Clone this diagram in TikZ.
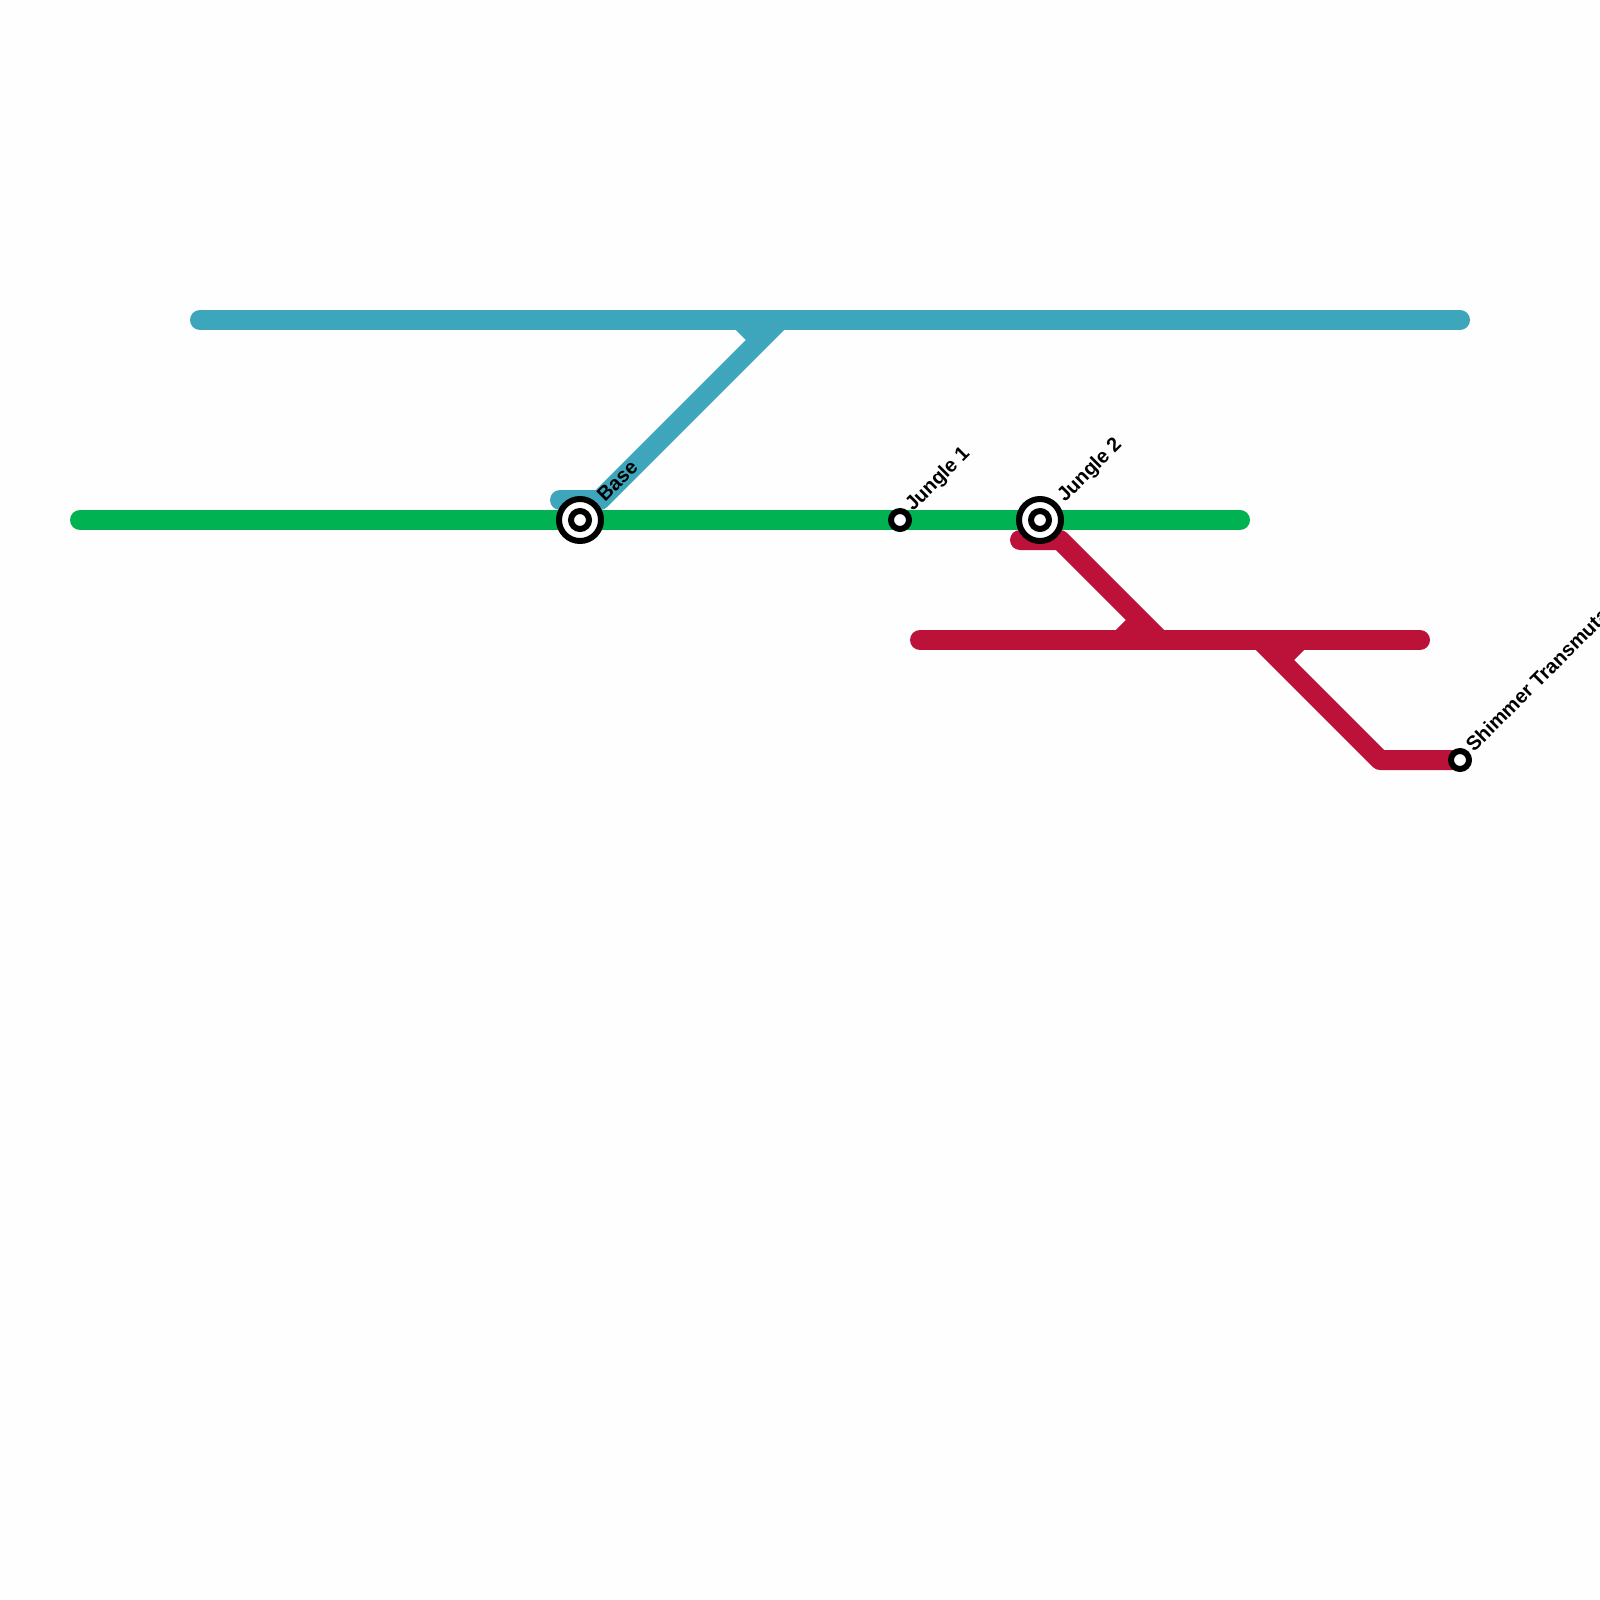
\documentclass[tikz,border=0pt]{standalone}
\usepackage{fontspec}
\setmainfont{Liberation Sans}
\definecolor{lblue}{HTML}{3EA6BC}
\definecolor{lgreen}{HTML}{00B251}
\definecolor{lred}{HTML}{BC1139}
\tikzset{
  metro/.style={line width=20pt,line cap=round,line join=round},
  stub/.style={line width=20pt,line cap=butt},
  lab/.style={anchor=base west,rotate=45,font=\bfseries\fontsize{20}{22}\selectfont,inner sep=0pt,text=black},
  bigring/.style={circle,draw=black,fill=white,line width=6pt,minimum size=42pt,inner sep=0pt,outer sep=0pt},
  midring/.style={circle,draw=black,fill=white,line width=6pt,minimum size=18pt,inner sep=0pt,outer sep=0pt},
}
\begin{document}
\begin{tikzpicture}[x=1pt,y=-1pt]
\useasboundingbox (0,0) rectangle (1600,1600);
\clip (0,0) rectangle (1600,1600);
\fill[white!99.6!black] (0,0) rectangle (1600,1600);
\coordinate (gA) at (80,520);
\coordinate (gB) at (1240,520);
\coordinate (bA) at (200,320);
\coordinate (bB) at (1460,320);
\coordinate (bC) at (560,500);
\coordinate (bD) at (600,500);
\coordinate (bE) at (780,320);
\coordinate (bF) at (740,320);
\coordinate (bG) at (760,340);
\coordinate (rA) at (920,640);
\coordinate (rB) at (1420,640);
\coordinate (rC) at (1020,540);
\coordinate (rD) at (1060,540);
\coordinate (rE) at (1160,640);
\coordinate (rF) at (1120,640);
\coordinate (rG) at (1140,620);
\coordinate (rH) at (1260,640);
\coordinate (rI) at (1380,760);
\coordinate (rJ) at (1300,640);
\coordinate (rK) at (1280,660);
\coordinate (rL) at (1460,760);
% lines
\draw[metro,lblue] (bC) -- (bD) -- (bE);
\draw[stub,lblue] (bF) -- (bG);
\draw[metro,lblue] (bA) -- (bB);
\draw[metro,lred] (rC) -- (rD) -- (rE);
\draw[stub,lred] (rF) -- (rG);
\draw[stub,lred] (rJ) -- (rK);
\draw[metro,lred] (rA) -- (rB);
\draw[metro,lred] (rH) -- (rI) -- (rL);
\draw[metro,lgreen] (gA) -- (gB);
% stations
\node[bigring] (base) at (580,520) {};
\node[midring] (baseIn) at (580,520) {};
\node[midring] (j1) at (900,520) {};
\node[bigring] (j2) at (1040,520) {};
\node[midring] (j2In) at (1040,520) {};
\node[midring] (sh) at (rL) {};
% labels
\node[lab] (lbase) at (605,503) {Base};
\node[lab] (lj1) at (913,512) {Jungle 1};
\node[lab] (lj2) at (1065,503) {Jungle 2};
\node[lab] (ls) at (1474,753) {Shimmer Transmutation};
\end{tikzpicture}
\end{document}
